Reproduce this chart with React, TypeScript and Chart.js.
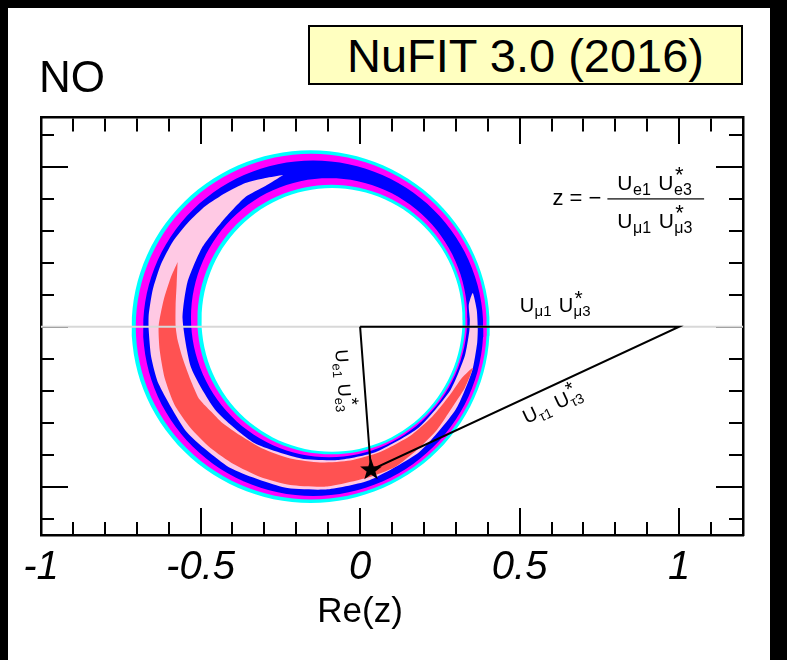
import React, { useEffect, useRef } from 'react';
import { Chart, registerables } from 'chart.js';

Chart.register(...registerables);

const FONT = '"Liberation Sans", Arial, Helvetica, sans-serif';

// ---------------- data ----------------
const X_MIN = -1;
const X_MAX = 1.2;
const Y_MIN = -0.651;
const Y_MAX = 0.655;
const MAJOR_STEP = 0.5;
const MINOR_STEP = 0.1;

// Full-ring contour boundaries (Re z, Im z), approximated by ellipses
// order: outer 3σ, outer 2σ, outer 1σ, inner 1σ, inner 2σ, inner 3σ
const ringCx = [-0.155, -0.153, -0.147, -0.097, -0.09, -0.088];
const ringCy = [0.0, 0.0, -0.005, 0.028, 0.022, 0.021];
const ringRx = [0.561, 0.55, 0.533, 0.433, 0.42, 0.409];
const ringRy = [0.551, 0.54, 0.524, 0.436, 0.421, 0.412];

// Pink crescent region boundary
const pinkRe = [
  -0.2406, -0.2969, -0.3594, -0.4219, -0.4844, -0.5375, -0.5875, -0.625, -0.65, -0.6625, -0.6625,
  -0.6547, -0.6313, -0.5419, -0.4047, -0.2363, -0.1019, 0.0294, 0.1847, 0.2997, 0.3513, 0.3669,
  0.3688, 0.3656, 0.3531, 0.3406, 0.3438, 0.3422, 0.3284, 0.2834, 0.1831, 0.0475, -0.0669, -0.1844,
  -0.3313, -0.4509, -0.5291, -0.5563, -0.5409, -0.4959, -0.4313, -0.3594, -0.2969,
];
const pinkIm = [
  0.4741, 0.4647, 0.4491, 0.4178, 0.3772, 0.3272, 0.2647, 0.1928, 0.1147, 0.0366, -0.0103,
  -0.0947, -0.1791, -0.3306, -0.4428, -0.5028, -0.5084, -0.48, -0.3925, -0.2588, -0.1375, -0.0509,
  -0.0072, 0.0522, 0.1053, 0.0678, 0.0241, -0.0147, -0.0909, -0.1978, -0.3159, -0.3928, -0.4166, -0.4119,
  -0.3634, -0.2634, -0.1291, 0.0241, 0.1391, 0.2459, 0.3303, 0.4053, 0.4397,
];

// Red crescent region boundary
const redRe = [
  -0.5719, -0.5938, -0.6156, -0.6313, -0.6281, -0.6125, -0.5813, -0.5313, -0.4688, -0.3969, -0.3125,
  -0.2188, -0.1031, 0.025, 0.1094, 0.1781, 0.2406, 0.2875, 0.3281, 0.3531, 0.3188, 0.2813, 0.225,
  0.1563, 0.0625, -0.0313, -0.125, -0.2188, -0.3063, -0.375, -0.4313, -0.4688, -0.4875, -0.5063,
  -0.5313, -0.5563, -0.5719, -0.5781, -0.5781, -0.575,
];
const redIm = [
  0.2022, 0.1522, 0.0834, 0.0022, -0.0728, -0.1603, -0.2447, -0.3166, -0.3791, -0.4291, -0.4697,
  -0.4947, -0.4994, -0.4713, -0.4384, -0.3853, -0.3228, -0.2541, -0.1916, -0.1291, -0.1603, -0.2134, -0.2822,
  -0.3416, -0.3916, -0.4181, -0.4244, -0.4119, -0.3806, -0.34, -0.3009, -0.2634, -0.2447, -0.2228,
  -0.1666, -0.0978, -0.0416, 0.0022, 0.0678, 0.1303,
];

// Unitarity triangle vertices
const originPt = [0, 0];
const muVertex = [1, 0];
const bestFit = [0.034, -0.448];

// ---------------- styles ----------------
const ringColors = ['#00FFFF', '#FF00FF', '#0000FF', '#FF00FF', '#00FFFF', '#FFFFFF'];
const PINK = '#FFC9E4';
const RED = '#FF5252';

// label anchors (data coordinates)
const formulaAnchor = [0.7563, 0.3803];
const fracBar = [0.775, 1.0781, 0.3991];
const numeratorAnchor = [0.8063, 0.4272];
const denominatorAnchor = [0.8063, 0.3084];
const muLabelAnchor = [0.5, 0.0459];
const eLabelAnchor = [-0.078, -0.073];
const tauLabelAnchor = [0.5219, -0.3041];

function ellipsePoints(i: number) {
  const pts: { x: number; y: number }[] = [];
  const N = 120;
  for (let k = 0; k <= N; k++) {
    const t = (2 * Math.PI * k) / N;
    pts.push({ x: ringCx[i] + ringRx[i] * Math.cos(t), y: ringCy[i] + ringRy[i] * Math.sin(t) });
  }
  return pts;
}

function polyPoints(re: number[], im: number[]) {
  const pts = re.map((x, i) => ({ x, y: im[i] }));
  pts.push({ x: re[0], y: im[0] });
  return pts;
}

function drawPair(ctx: CanvasRenderingContext2D, sub1: string, sub2: string, F: number) {
  const f = Math.round(F * 0.74);
  ctx.font = `${F}px ${FONT}`;
  const wU = ctx.measureText('U').width;
  ctx.fillText('U', 0, 0);
  ctx.font = `${f}px ${FONT}`;
  ctx.fillText(sub1, wU + 0.5, F * 0.22);
  let x = wU + ctx.measureText(sub1).width + F * 0.38;
  ctx.font = `${F}px ${FONT}`;
  ctx.fillText('U', x, 0);
  x += wU + 0.5;
  ctx.font = `${f}px ${FONT}`;
  ctx.fillText(sub2, x, F * 0.22);
  ctx.font = `${Math.round(F * 1.05)}px ${FONT}`;
  ctx.fillText('*', x + 1, -F * 0.36);
}

const annotationPlugin = {
  id: 'nufitAnnotations',
  afterDraw(chart: any) {
    const { ctx, chartArea } = chart;
    const xs = chart.scales.x;
    const ys = chart.scales.y;
    const P = (re: number, im: number) => [xs.getPixelForValue(re), ys.getPixelForValue(im)];
    ctx.save();
    ctx.fillStyle = '#000';
    ctx.textBaseline = 'alphabetic';

    // formula z = - (Ue1 Ue3*)/(Uμ1 Uμ3*)
    const [fx, fy] = P(formulaAnchor[0], formulaAnchor[1]);
    ctx.font = `22px ${FONT}`;
    ctx.textAlign = 'right';
    ctx.fillText('z = \u2212', fx, fy);
    ctx.textAlign = 'left';
    const [b1, by] = P(fracBar[0], fracBar[2]);
    const [b2] = P(fracBar[1], fracBar[2]);
    ctx.fillRect(b1, by - 0.6, b2 - b1, 1.2);
    let [ax, ay] = P(numeratorAnchor[0], numeratorAnchor[1]);
    ctx.save(); ctx.translate(ax, ay); drawPair(ctx, 'e1', 'e3', 21); ctx.restore();
    [ax, ay] = P(denominatorAnchor[0], denominatorAnchor[1]);
    ctx.save(); ctx.translate(ax, ay); drawPair(ctx, '\u03bc1', '\u03bc3', 21); ctx.restore();

    // mu side label
    [ax, ay] = P(muLabelAnchor[0], muLabelAnchor[1]);
    ctx.save(); ctx.translate(ax, ay); drawPair(ctx, '\u03bc1', '\u03bc3', 20); ctx.restore();

    const o = P(originPt[0], originPt[1]);
    const s = P(bestFit[0], bestFit[1]);
    const m = P(muVertex[0], muVertex[1]);

    // e side label
    [ax, ay] = P(eLabelAnchor[0], eLabelAnchor[1]);
    ctx.save(); ctx.translate(ax, ay); ctx.rotate(Math.atan2(s[1] - o[1], s[0] - o[0]));
    drawPair(ctx, 'e1', 'e3', 18); ctx.restore();

    // tau side label
    [ax, ay] = P(tauLabelAnchor[0], tauLabelAnchor[1]);
    ctx.save(); ctx.translate(ax, ay); ctx.rotate(Math.atan2(m[1] - s[1], m[0] - s[0]));
    drawPair(ctx, '\u03c41', '\u03c43', 19.5); ctx.restore();

    // axis title
    ctx.font = `35px ${FONT}`;
    ctx.textAlign = 'center';
    ctx.textBaseline = 'middle';
    ctx.fillText('Re(z)', xs.getPixelForValue(0), chartArea.bottom + 77);
    ctx.restore();
  },
};

function makeStar(size: number) {
  const c = document.createElement('canvas');
  c.width = size;
  c.height = size;
  const g = c.getContext('2d')!;
  const R = size / 2 - 0.5;
  const r = R * 0.4;
  g.beginPath();
  for (let i = 0; i < 10; i++) {
    const a = -Math.PI / 2 + (i * Math.PI) / 5;
    const rad = i % 2 === 0 ? R : r;
    g.lineTo(size / 2 + rad * Math.cos(a), size / 2 + rad * Math.sin(a));
  }
  g.closePath();
  g.fillStyle = '#000';
  g.fill();
  return c;
}

function tickScale(axis: 'x' | 'y', position: any, step: number, len: number, border: boolean) {
  return {
    type: 'linear',
    axis,
    position,
    min: axis === 'x' ? X_MIN : Y_MIN,
    max: axis === 'x' ? X_MAX : Y_MAX,
    z: 1,
    ticks: { display: false, stepSize: step, includeBounds: false },
    grid: {
      display: true,
      drawOnChartArea: false,
      drawTicks: true,
      tickLength: len,
      tickColor: '#000',
      tickWidth: 2,
      lineWidth: 2,
    },
    border: { display: border, color: '#000', width: 2.5 },
  };
}

export default function App() {
  const ref = useRef<HTMLCanvasElement | null>(null);

  useEffect(() => {
    if (!ref.current) return;
    const base = { pointRadius: 0, borderWidth: 0, tension: 0 };
    const datasets: any[] = [];
    // outer discs: 3σ, 2σ, 1σ
    [0, 1, 2].forEach((i, k) => {
      datasets.push({ ...base, data: ellipsePoints(i), fill: 'shape', backgroundColor: ringColors[i], order: 20 - k });
    });
    datasets.push({ ...base, tension: 0.2, data: polyPoints(pinkRe, pinkIm), fill: 'shape', backgroundColor: PINK, order: 16 });
    datasets.push({ ...base, tension: 0.2, data: polyPoints(redRe, redIm), fill: 'shape', backgroundColor: RED, order: 15 });
    [3, 4, 5].forEach((i, k) => {
      datasets.push({ ...base, data: ellipsePoints(i), fill: 'shape', backgroundColor: ringColors[i], order: 14 - k });
    });
    datasets.push({
      data: [{ x: X_MIN, y: 0 }, { x: X_MAX, y: 0 }],
      borderColor: '#d8d8d8', borderWidth: 2, pointRadius: 0, fill: false, order: 5,
    });
    datasets.push({
      data: [
        { x: originPt[0], y: originPt[1] },
        { x: muVertex[0], y: muVertex[1] },
        { x: bestFit[0], y: bestFit[1] },
        { x: originPt[0], y: originPt[1] },
      ],
      borderColor: '#000', borderWidth: 2, pointRadius: 0, fill: false, tension: 0, order: 4,
    });
    datasets.push({
      data: [{ x: bestFit[0], y: bestFit[1] }],
      showLine: false, pointStyle: makeStar(24), pointRadius: 11, fill: false, order: 1,
    });

    const chart = new Chart(ref.current, {
      type: 'line',
      data: { datasets },
      plugins: [annotationPlugin],
      options: {
        animation: false,
        responsive: false,
        maintainAspectRatio: false,
        devicePixelRatio: 1,
        events: [],
        layout: { padding: { left: 33, right: 27, top: 109, bottom: 0 } },
        plugins: { legend: { display: false }, tooltip: { enabled: false }, title: { display: false } },
        scales: {
          x: {
            type: 'linear',
            position: 'bottom',
            min: X_MIN,
            max: X_MAX,
            z: 1,
            ticks: {
              stepSize: MAJOR_STEP,
              includeBounds: false,
              padding: 9,
              color: '#000',
              maxRotation: 0,
              autoSkip: false,
              font: { family: FONT, size: 40, style: 'italic' },
              callback: (v: any) => String(v),
            },
            grid: { display: false, drawTicks: false },
            border: { display: true, color: '#000', width: 2.5 },
            afterFit: (s: any) => { s.height = 125; },
          },
          y: {
            type: 'linear',
            position: 'left',
            min: Y_MIN,
            max: Y_MAX,
            z: 1,
            ticks: { display: false },
            grid: { display: false, drawTicks: false },
            border: { display: true, color: '#000', width: 2.5 },
            afterFit: (s: any) => { s.width = 0; },
          },
          xMinB: tickScale('x', { y: Y_MIN }, MINOR_STEP, -13, false),
          xMajB: tickScale('x', { y: Y_MIN }, MAJOR_STEP, -27, false),
          xMinT: tickScale('x', { y: Y_MAX }, MINOR_STEP, 13, true),
          xMajT: tickScale('x', { y: Y_MAX }, MAJOR_STEP, 27, false),
          yMinL: tickScale('y', { x: X_MIN }, MINOR_STEP, -13, false),
          yMajL: tickScale('y', { x: X_MIN }, MAJOR_STEP, -27, false),
          yMinR: tickScale('y', { x: X_MAX }, MINOR_STEP, 13, true),
          yMajR: tickScale('y', { x: X_MAX }, MAJOR_STEP, 27, false),
        } as any,
      },
    } as any);
    return () => chart.destroy();
  }, []);

  return (
    <div style={{ position: 'fixed', left: 0, top: 0, width: 787, height: 660, background: '#000', overflow: 'hidden' }}>
      <div style={{ position: 'absolute', left: 8, top: 8, width: 762, height: 652, background: '#fff' }}>
        <canvas ref={ref} width={762} height={652} style={{ display: 'block', width: 762, height: 652 }} />
        <div style={{ position: 'absolute', left: 31, top: 46.5, fontFamily: FONT, fontSize: 44, lineHeight: '44px', color: '#000' }}>NO</div>
        <div
          style={{
            position: 'absolute', left: 300, top: 17, width: 435, height: 60, boxSizing: 'border-box',
            border: '2px solid #000', background: '#FFFFC0', display: 'flex', alignItems: 'center',
            justifyContent: 'center', fontFamily: FONT, fontSize: 47, lineHeight: 1, color: '#000', whiteSpace: 'nowrap',
          }}
        >
          NuFIT 3.0 (2016)
        </div>
      </div>
    </div>
  );
}
